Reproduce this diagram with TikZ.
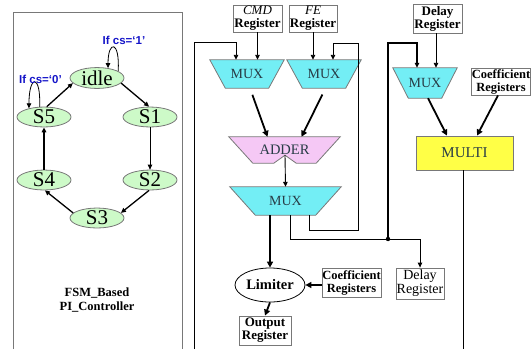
\documentclass[tikz,border=0pt]{standalone}
\usepackage{fontspec}
\setmainfont{Liberation Serif}
\newfontfamily\lsans{Liberation Sans}
\usetikzlibrary{shapes.geometric,arrows.meta}
\pgfdeclarelayer{bg}
\pgfsetlayers{bg,main}
\definecolor{muxc}{RGB}{115,238,245}
\definecolor{addc}{RGB}{245,200,245}
\definecolor{mulc}{RGB}{255,255,70}
\definecolor{stc}{RGB}{205,250,200}
\definecolor{bord}{RGB}{120,120,120}
\definecolor{lblc}{RGB}{20,20,200}
\definecolor{muxt}{RGB}{40,60,70}
\newcommand\invtrap[3]{%
  \filldraw[fill=#3,draw=bord,line width=0.8pt] (#1.north west) -- (#1.north east) -- ([xshift=-#2pt]#1.south east) -- ([xshift=#2pt]#1.south west) -- cycle;}
\begin{document}
\begin{tikzpicture}[x=1pt,y=-1pt,
  st/.style={ellipse,draw=bord,fill=stc,line width=0.8pt,minimum width=54,minimum height=19,inner sep=0pt,font=\fontsize{21}{21}\selectfont},
  lbl/.style={text=lblc,inner sep=0pt,font=\lsans\bfseries\fontsize{11.5}{12}\selectfont},
  muxn/.style={inner sep=0pt,text=muxt,font=\fontsize{14}{14}\selectfont},
  reg/.style={draw=bord,line width=0.8pt,fill=white,inner sep=0pt,align=center,font=\fontsize{13}{13}\selectfont},
  fsmarr/.style={line width=1.3pt,-{Triangle[length=5pt,width=4.5pt]}},
  fsmthin/.style={line width=0.8pt,-{Triangle[length=5pt,width=4.5pt]}},
  thinarr/.style={line width=0.9pt,-{Triangle[length=5pt,width=4.5pt]}},
  thickarr/.style={line width=1.8pt,-{Triangle[length=6pt,width=6pt]}},
  wire/.style={line width=0.9pt}]
\useasboundingbox (0,0) rectangle (532,349);

% ---------- FSM panel ----------
\draw[bord,line width=0.9pt] (13,349) -- (13,12) -- (182,12) -- (182,349);
\node[st] (idle) at (97,78) {idle};
\node[st] (S5) at (44,117) {S5};
\node[st] (S1) at (150,117) {S1};
\node[st] (S4) at (44,180) {S4};
\node[st] (S2) at (150,180) {S2};
\node[st] (S3) at (97,218) {S3};
\draw[fsmarr] (idle.-12) -- (S1.95);
\draw[fsmthin] (S1.south) -- (S2.north);
\draw[fsmarr] (S2.-95) -- (S3.12);
\draw[fsmarr] (S3.168) -- (S4.-85);
\draw[fsmarr] (S4.north) -- (S5.south);
\draw[fsmarr] (S5.75) -- (idle.192);
\draw[fsmthin] (idle.18) .. controls (120,40) and (108,40) .. (idle.42);
\draw[fsmthin] (S5.113) .. controls (41,74) and (29,74) .. (S5.150);
\node[lbl] (l1) at (124,40) {If cs=‘1’};
\node[lbl] (l0) at (40.5,79) {If cs=‘0’};
\node[align=center,inner sep=0pt,font=\bfseries\fontsize{12.5}{14.5}\selectfont] (fsmt) at (97,300) {FSM\_Based\\PI\_Controller};

% ---------- datapath ----------
\node[reg,minimum width=49,minimum height=27] (cmd) at (257.5,18.5) {\itshape CMD\\\bfseries Register};
\node[reg,minimum width=48,minimum height=27] (fe) at (313,18.5) {\itshape FE\\\bfseries Register};
\node[reg,minimum width=49,minimum height=29] (dreg1) at (437.5,18.5) {\bfseries Delay\\\bfseries Register};
\node[reg,minimum width=56,minimum height=27,font=\bfseries\fontsize{12.5}{13}\selectfont] (coef1) at (501,81.5) {Coefficient\\Registers};

\node[muxn,minimum width=74,minimum height=28] (m1) at (247,74) {MUX};
\node[muxn,minimum width=74,minimum height=28] (m2) at (324,74) {MUX};
\node[muxn,minimum width=64,minimum height=30] (m4) at (425,83) {MUX};
\node[muxn,minimum width=111,minimum height=26,font=\fontsize{14.5}{14.5}\selectfont] (adder) at (284.5,150) {ADDER};
\node[muxn,minimum width=111,minimum height=28] (m3) at (285.5,201) {MUX};
\node[draw=bord,fill=mulc,line width=0.8pt,minimum width=97,minimum height=34,inner sep=0pt,text=muxt,font=\fontsize{15}{15}\selectfont] (multi) at (464.5,153) {MULTI};

\begin{pgfonlayer}{bg}
\invtrap{m1}{15.5}{muxc}
\invtrap{m2}{15.5}{muxc}
\invtrap{m4}{15.5}{muxc}
\invtrap{m3}{25.5}{muxc}
\filldraw[fill=addc,draw=bord,line width=0.8pt] (adder.north west) -- (adder.north east) -- ([xshift=-24pt]adder.south east) -- ([xshift=-44pt]adder.south east) -- ([xshift=0.5pt,yshift=8pt]adder.south) -- ([xshift=45pt]adder.south west) -- ([xshift=24pt]adder.south west) -- cycle;
\end{pgfonlayer}

\node[ellipse,draw=black,line width=0.8pt,minimum width=70,minimum height=34,inner sep=0pt,font=\bfseries\fontsize{14.5}{14.5}\selectfont] (lim) at (270,285) {Limiter};
\node[reg,minimum width=59,minimum height=29,font=\bfseries\fontsize{12.5}{13}\selectfont] (coef2) at (351.5,282.5) {Coefficient\\Registers};
\node[reg,minimum width=48,minimum height=31,font=\fontsize{14}{14}\selectfont] (dreg2) at (420,283.5) {Delay\\Register};
\node[reg,minimum width=52,minimum height=29,font=\bfseries\fontsize{13}{13}\selectfont] (out) at (265,330.5) {Output\\Register};

\coordinate (fb1) at (194,349);
\coordinate (dot) at (388,239);
\coordinate (mend) at (463,349);

% connectors
\draw[thinarr] (fb1) -- (194,42) -| ([xshift=-11pt]m1.north);
\draw[thinarr] (cmd.south) -- (cmd.south |- m1.north);
\draw[thinarr] (fe.south) -- (fe.south |- m2.north);
\draw[thinarr] ([xshift=23.5pt]m3.south) -- ++(0,15) -| (358,43) -| ([xshift=9pt]m2.north);
\draw[wire] ([xshift=4.5pt]m3.south) |- (dot);
\draw[thinarr] (dot) -| (dreg2.north);
\draw[thinarr,line width=1.3pt] (dot) |- (417,43) -- ([xshift=-8pt]m4.north);
\fill (dot) circle (2.2pt);
\draw[thinarr] (dreg1.south -| 436,0) -- (436,0 |- m4.north);
\draw[thickarr,shorten <=7pt] ([xshift=3pt]m1.south) -- ([xshift=-17pt]adder.north);
\draw[thickarr,shorten <=7pt] ([xshift=1.5pt]m2.south) -- ([xshift=17pt]adder.north);
\draw[thinarr] ([xshift=0.5pt,yshift=8pt]adder.south) -- (m3.north);
\draw[thickarr] (lim.north |- m3.south) -- (lim.north);
\draw[thickarr] (coef2.west |- lim.east) -- (lim.east);
\draw[thickarr] (lim.south) -- (out.north);
\draw[thickarr] ([xshift=3pt]m4.south) -- ([xshift=-17.5pt]multi.north);
\draw[thickarr] ([xshift=-3pt]coef1.south) -- ([xshift=12.5pt]multi.north);
\draw[wire] (multi.south -| mend) -- (mend);
\end{tikzpicture}
\end{document}
